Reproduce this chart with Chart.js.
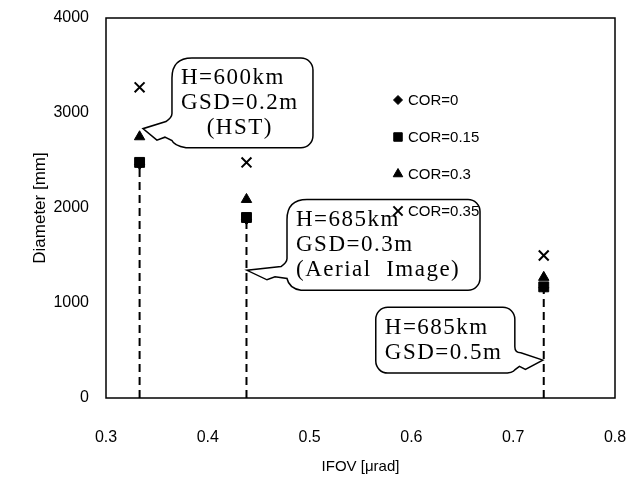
<!DOCTYPE html>
<html>
<head>
<meta charset="utf-8">
<script src="https://cdn.jsdelivr.net/npm/chart.js@4"></script>
<style>
  html, body { margin: 0; background: #fff; }
</style>
</head>
<body>
<canvas id="chart" width="642" height="482"></canvas>
<script>
// IFOV [urad] of each case, diameter [mm] per COR value
const ifov = [0.333, 0.438, 0.73];
const cor0 = [2460, 1880, 1160];
const cor015 = [2480, 1900, 1170];
const cor03 = [2750, 2090, 1270];
const cor035 = [3270, 2480, 1500];

const seriesNames = ["COR=0", "COR=0.15", "COR=0.3", "COR=0.35"];
const xTicks = [0.3, 0.4, 0.5, 0.6, 0.7, 0.8];
const yTicks = [0, 1000, 2000, 3000, 4000];

// callout boxes, in data units: box = [xLeft, xRight, yTop, yBottom]
const callouts = [
  { lines: ["H=600km", "GSD=0.2m", "(HST)"], centered: [false, false, true], box: [0.3648, 0.5033, 3580, 2635], tip: [0.3363, 2835], side: "left", base: [0.62, 0.92] },
  { lines: ["H=685km", "GSD=0.3m", "(Aerial  Image)"], box: [0.4778, 0.6674, 2089, 1134], tip: [0.4385, 1344], side: "left", base: [0.65, 0.87] },
  { lines: ["H=685km", "GSD=0.5m"], box: [0.565, 0.7016, 955, 262], tip: [0.7291, 399], side: "right", base: [0.6, 0.95] },
];

const pts = (ys) => ys.map((y, i) => ({ x: ifov[i], y }));
const styles = [
  { pointStyle: "rectRot", radius: 5 },
  { pointStyle: "rect", radius: 7 },
  { pointStyle: "triangle", radius: 6 },
  { pointStyle: "crossRot", radius: 7 },
];
const values = [cor0, cor015, cor03, cor035];

const datasets = values.map((ys, k) => ({
  label: seriesNames[k],
  data: pts(ys),
  pointStyle: styles[k].pointStyle,
  pointRadius: styles[k].radius,
  backgroundColor: "#000",
  borderColor: "#000",
  pointBorderWidth: k === 3 ? 2 : 1,
  showLine: false,
  order: 4 - k,
}));

// dashed drop lines from each square down to the axis
ifov.forEach((x, i) => {
  datasets.push({
    label: "drop" + i,
    data: [{ x, y: 0 }, { x, y: cor015[i] }],
    showLine: true,
    borderColor: "#000",
    borderWidth: 2,
    borderDash: [8, 5],
    pointRadius: 0,
    order: 10,
  });
});

const framePlugin = {
  id: "frame",
  afterDatasetsDraw(chart) {
    const { ctx, chartArea: a } = chart;
    ctx.save();
    ctx.strokeStyle = "#000";
    ctx.lineWidth = 1.5;
    ctx.strokeRect(a.left, a.top, a.right - a.left, a.bottom - a.top);
    ctx.restore();
  },
};

const calloutPlugin = {
  id: "callouts",
  afterDraw(chart) {
    const { ctx, scales } = chart;
    const xs = scales.x, ys = scales.y;
    ctx.save();
    callouts.forEach((c) => {
      const L = xs.getPixelForValue(c.box[0]);
      const R = xs.getPixelForValue(c.box[1]);
      const T = ys.getPixelForValue(c.box[2]);
      const B = ys.getPixelForValue(c.box[3]);
      const tx = xs.getPixelForValue(c.tip[0]);
      const ty = ys.getPixelForValue(c.tip[1]);
      const ya = T + (B - T) * c.base[0];
      const yb = T + (B - T) * c.base[1];
      const r = 12;
      ctx.beginPath();
      if (c.side === "left") {
        const ax = L + 0.45 * (tx - L);
        const ay = yb + 0.45 * (ty - yb);
        ctx.moveTo(L + 20, T);
        ctx.lineTo(R - r, T);
        ctx.arcTo(R, T, R, T + r, r);
        ctx.lineTo(R, B - r);
        ctx.arcTo(R, B, R - r, B, r);
        ctx.lineTo(L + 14, B);
        ctx.quadraticCurveTo(L + 2, B - 2, L, yb);
        ctx.lineTo(ax + 6, ay + 2);
        ctx.lineTo(ax - 2, ay + 5);
        ctx.lineTo(tx, ty);
        ctx.lineTo(L - 6, ya + 8);
        ctx.quadraticCurveTo(L, ya + 4, L, ya);
        ctx.lineTo(L, T + 20);
        ctx.quadraticCurveTo(L, T, L + 20, T);
      } else {
        const ax = R + 0.45 * (tx - R);
        const ay = yb + 0.45 * (ty - yb);
        ctx.moveTo(L + r, T);
        ctx.lineTo(R - r, T);
        ctx.arcTo(R, T, R, T + r, r);
        ctx.lineTo(R, ya);
        ctx.quadraticCurveTo(R, ya + 6, R + 6, ya + 6);
        ctx.lineTo(tx, ty);
        ctx.lineTo(ax - 2, ay + 4);
        ctx.lineTo(ax - 8, ay + 1);
        ctx.lineTo(R, yb);
        ctx.quadraticCurveTo(R - 2, B, R - r, B);
        ctx.lineTo(L + r, B);
        ctx.arcTo(L, B, L, B - r, r);
        ctx.lineTo(L, T + r);
        ctx.arcTo(L, T, L + r, T, r);
      }
      ctx.closePath();
      ctx.fillStyle = "#fff";
      ctx.fill();
      ctx.strokeStyle = "#000";
      ctx.lineWidth = 1.5;
      ctx.stroke();

      ctx.fillStyle = "#000";
      ctx.font = "23px 'Liberation Serif', serif";
      ctx.letterSpacing = "1.5px";
      ctx.textBaseline = "middle";
      ctx.textAlign = "left";
      const lh = 25;
      let y = T + (B - T - c.lines.length * lh) / 2 + lh / 2;
      const widest = Math.max(...c.lines.map((s) => ctx.measureText(s).width));
      c.lines.forEach((s, i) => {
        let x = L + 9;
        if (c.centered && c.centered[i]) x += (widest - ctx.measureText(s).width) / 2;
        ctx.fillText(s, x, y);
        y += lh;
      });
    });
    ctx.restore();
  },
};

const legendPlugin = {
  id: "cornerLegend",
  afterDraw(chart) {
    const { ctx } = chart;
    ctx.save();
    ctx.fillStyle = "#000";
    ctx.strokeStyle = "#000";
    ctx.font = "15px 'Liberation Sans', Arial, sans-serif";
    ctx.textBaseline = "middle";
    const legendStyles = [
      { pointStyle: "rectRot", radius: 4.5, borderWidth: 1 },
      { pointStyle: "rect", radius: 6, borderWidth: 1 },
      { pointStyle: "triangle", radius: 5.5, borderWidth: 1 },
      { pointStyle: "crossRot", radius: 6.5, borderWidth: 2 },
    ];
    seriesNames.forEach((name, k) => {
      const y = 100 + k * 37;
      ctx.lineWidth = legendStyles[k].borderWidth;
      Chart.helpers.drawPoint(ctx, { ...legendStyles[k], rotation: 0 }, 398, y);
      ctx.fillText(name, 408, y + 1);
    });
    ctx.restore();
  },
};

const tickFont = { family: "'Liberation Sans', Arial, sans-serif", size: 16 };

new Chart(document.getElementById("chart").getContext("2d"), {
  type: "scatter",
  data: { datasets },
  options: {
    responsive: false,
    animation: false,
    layout: { padding: { left: 0, top: 18, right: 27, bottom: 0 } },
    plugins: { legend: { display: false }, tooltip: { enabled: false } },
    scales: {
      x: {
        type: "linear",
        min: xTicks[0],
        max: xTicks[xTicks.length - 1],
        afterBuildTicks: (s) => { s.ticks = xTicks.map((v) => ({ value: v })); },
        afterFit: (s) => { s.height = 84; s.paddingLeft = 0; s.paddingRight = 0; },
        grid: { display: false, drawTicks: false },
        border: { display: false },
        ticks: { color: "#000", font: tickFont, padding: 30, callback: (v) => v.toFixed(1) },
        title: { display: true, text: "IFOV [μrad]", color: "#000", font: { family: "'Liberation Sans', Arial, sans-serif", size: 15 }, padding: { top: 0, bottom: 6 } },
      },
      y: {
        type: "linear",
        min: yTicks[0],
        max: yTicks[yTicks.length - 1],
        afterBuildTicks: (s) => { s.ticks = yTicks.map((v) => ({ value: v })); },
        afterFit: (s) => { s.width = 106; s.paddingTop = 0; s.paddingBottom = 0; },
        grid: { display: false, drawTicks: false },
        border: { display: false },
        ticks: { color: "#000", font: tickFont, padding: 17, callback: (v) => String(v) },
        title: { display: true, text: "Diameter [mm]", color: "#000", font: { family: "'Liberation Sans', Arial, sans-serif", size: 17 }, padding: { top: 30, bottom: 0 } },
      },
    },
  },
  plugins: [framePlugin, calloutPlugin, legendPlugin],
});
</script>
</body>
</html>
